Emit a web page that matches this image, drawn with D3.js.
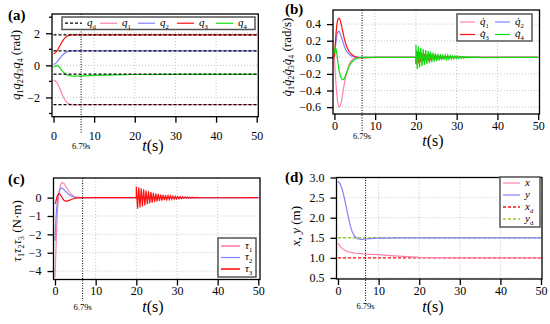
<!DOCTYPE html>
<html>
<head>
<meta charset="utf-8">
<script src="https://cdn.jsdelivr.net/npm/d3@7"></script>
<style>
body { margin: 0; background: #fff; }
svg text { font-family: "Liberation Serif", serif; }
</style>
</head>
<body>
<script>
// ---- data ----
var xTicks = [0, 10, 20, 30, 40, 50];
var tMark = 6.79;

// (a) joint angles
var tA = [0, 0.5, 1, 1.5, 2, 2.5, 3, 3.5, 4, 4.5, 5, 6, 8, 10, 15, 20, 30, 50];
var q1 = [-0.92, -0.98, -1.13, -1.4, -1.74, -2.02, -2.22, -2.35, -2.42, -2.45, -2.46, -2.46, -2.45, -2.45, -2.45, -2.45, -2.45, -2.45];
var q2 = [0.05, 0.11, 0.25, 0.42, 0.58, 0.71, 0.8, 0.86, 0.89, 0.9, 0.9, 0.9, 0.9, 0.9, 0.9, 0.9, 0.9, 0.9];
var q3 = [0.7, 0.79, 0.96, 1.18, 1.42, 1.62, 1.76, 1.84, 1.88, 1.9, 1.9, 1.9, 1.9, 1.9, 1.9, 1.9, 1.9, 1.9];
var q4 = [-0.1, -0.03, -0.03, -0.13, -0.3, -0.45, -0.55, -0.61, -0.64, -0.66, -0.67, -0.67, -0.65, -0.63, -0.59, -0.57, -0.56, -0.56];
var qd = [1.9, 0.9, -0.55, -2.45];
var ticksA = [-2, 0, 2];
var minorA = [-3, -1, 1, 3];

// (b) joint velocities
var tB = [0, 0.2, 0.4, 0.6, 0.8, 1, 1.2, 1.4, 1.6, 1.8, 2, 2.2, 2.4, 2.8, 3.2, 3.6, 4, 4.5, 5, 5.5, 6, 7, 8, 10, 19.99];
var dq1 = [0, -0.18, -0.33, -0.45, -0.54, -0.59, -0.6, -0.59, -0.56, -0.51, -0.45, -0.39, -0.33, -0.23, -0.15, -0.09, -0.05, -0.025, -0.01, -0.004, 0, 0, 0, 0, 0];
var dq2 = [0, 0.1, 0.19, 0.26, 0.3, 0.31, 0.31, 0.29, 0.26, 0.23, 0.2, 0.17, 0.14, 0.09, 0.06, 0.035, 0.02, 0.01, 0.005, 0.002, 0, 0, 0, 0, 0];
var dq3 = [0, 0.15, 0.29, 0.39, 0.45, 0.47, 0.47, 0.45, 0.41, 0.37, 0.32, 0.28, 0.23, 0.16, 0.11, 0.07, 0.045, 0.025, 0.01, 0.002, -0.005, -0.008, -0.005, 0, 0];
var dq4 = [0.05, 0.12, 0.1, 0.04, -0.04, -0.11, -0.17, -0.21, -0.24, -0.26, -0.27, -0.27, -0.26, -0.21, -0.16, -0.11, -0.075, -0.045, -0.025, -0.012, -0.004, 0, 0, 0, 0];

// disturbance at t = 20 s
var tOsc = [20, 20.3, 20.6, 20.9, 21.2, 21.5, 21.8, 22.1, 22.4, 22.7, 23, 23.3, 23.6, 23.9, 24.2, 24.5, 24.8, 25.1, 25.4, 25.7,
            26, 26.3, 26.6, 26.9, 27.2, 27.5, 27.8, 28.1, 28.4, 28.7, 29, 29.3, 29.6, 29.9, 30.2, 30.5, 30.8, 31.1, 31.4, 31.7,
            32, 32.3, 32.6, 32.9, 33.2, 33.5, 33.8, 34.1, 34.4, 34.7, 35, 35.3, 35.6, 35.9];
var dq4Osc = [0.15, -0.14, 0.131, -0.122, 0.113, -0.106, 0.099, -0.092, 0.086, -0.08, 0.075, -0.07, 0.065, -0.06, 0.056, -0.053, 0.049, -0.046, 0.043, -0.04,
              0.037, -0.035, 0.032, -0.03, 0.028, -0.026, 0.024, -0.023, 0.021, -0.02, 0.018, -0.017, 0.016, -0.015, 0.014, -0.013, 0.012, -0.011, 0.01, -0.01,
              0.009, -0.008, 0.008, -0.007, 0.007, -0.006, 0.006, -0.005, 0.005, -0.004, 0.004, -0.004, 0.003, -0.003];
var dq3Osc = [-0.08, 0.075, -0.07, 0.063, -0.057, 0.05, -0.045, 0.04, -0.036, 0.032, -0.028, 0.025, -0.022, 0.02, -0.018, 0.016, -0.014, 0.012, -0.011, 0.01,
              -0.009, 0.008, -0.007, 0.006, -0.005, 0.005, -0.004, 0.004, -0.003, 0.003, -0.003, 0.002, -0.002, 0.002, -0.002, 0.001, -0.001, 0.001, -0.001, 0.001,
              0, 0, 0, 0, 0, 0, 0, 0, 0, 0, 0, 0, 0, 0];
var ticksB = [-0.6, -0.4, -0.2, 0, 0.2, 0.4];

// (c) joint torques
var tC = [0, 0.1, 0.2, 0.3, 0.5, 0.7, 1, 1.3, 1.6, 1.9, 2.2, 2.6, 3, 3.5, 4, 4.5, 5, 6, 8, 19.99];
var tau1 = [-4.35, -3.8, -3.0, -2.3, -1.2, -0.4, 0.3, 0.65, 0.8, 0.82, 0.78, 0.65, 0.5, 0.32, 0.18, 0.09, 0.04, 0.01, 0, 0];
var tau2 = [-2.35, -1.8, -1.3, -0.9, -0.35, 0, 0.3, 0.47, 0.53, 0.5, 0.44, 0.35, 0.26, 0.16, 0.09, 0.05, 0.02, 0.005, 0, 0];
var tau3 = [-0.33, -0.3, -0.22, -0.12, 0.05, 0.16, 0.22, 0.18, 0.06, -0.06, -0.14, -0.19, -0.19, -0.15, -0.1, -0.06, -0.03, -0.01, 0, 0];
var tau3Osc = [0.6, -0.6, 0.57, -0.54, 0.51, -0.48, 0.45, -0.42, 0.39, -0.36, 0.34, -0.32, 0.3, -0.28, 0.26, -0.24, 0.22, -0.21, 0.2, -0.18,
               0.17, -0.16, 0.15, -0.14, 0.13, -0.12, 0.11, -0.1, 0.095, -0.09, 0.085, -0.08, 0.075, -0.07, 0.065, -0.06, 0.055, -0.05, 0.045, -0.04,
               0.037, -0.034, 0.031, -0.028, 0.025, -0.022, 0.02, -0.018, 0.016, -0.014, 0.012, -0.01, 0.008, -0.006];
var ticksC = [-4, -3, -2, -1, 0];

// (d) end effector position
var tD = [0, 0.5, 1, 1.5, 2, 2.5, 3, 3.5, 4, 4.5, 5, 5.5, 6, 7, 8, 10, 12, 15, 18, 20, 25, 30, 40, 50];
var posX = [1.36, 1.29, 1.23, 1.2, 1.17, 1.15, 1.14, 1.13, 1.12, 1.115, 1.11, 1.105, 1.1, 1.095, 1.09, 1.08, 1.065, 1.045, 1.025, 1.015, 1.005, 1.0, 1.0, 1.0];
var posY = [2.9, 2.85, 2.72, 2.52, 2.28, 2.03, 1.81, 1.65, 1.55, 1.5, 1.47, 1.46, 1.46, 1.47, 1.48, 1.49, 1.49, 1.5, 1.5, 1.5, 1.5, 1.5, 1.5, 1.5];
var xd = 1.0, yd = 1.5;
var ticksD = [0.5, 1, 1.5, 2, 2.5, 3];

// ---- colours ----
var cPink = "#ff80aa", cBlue = "#8080ff", cRed = "#ff1010", cGreen = "#10dd10", cYel = "#99cc33";
var serif = "Liberation Serif, serif";

var svg = d3.select("body").append("svg")
    .attr("width", 550)
    .attr("height", 324)
    .attr("font-family", serif);

// text with italic symbols and subscripts: pieces [text, "i" | "s" | ""]
function rich(t, pieces, size) {
    var inSub = false;
    pieces.forEach(function(p) {
        var ts = t.append("tspan").text(p[0]);
        var sub = p[1] === "s";
        if (p[1] === "i") ts.attr("font-style", "italic");
        if (sub) ts.attr("font-size", size * 0.6);
        if (sub && !inSub) ts.attr("dy", size * 0.28);
        if (!sub && inSub) ts.attr("dy", -size * 0.28);
        inSub = sub;
    });
    return t;
}

function panel(p) {
    var g = svg.append("g");
    var x = d3.scaleLinear().domain([0, 50]).range([p.x0, p.x50]);
    var y = d3.scaleLinear().domain(p.yDom).range([p.bottom, p.top]);

    // grid
    g.selectAll(".gx").data([10, 20, 30, 40]).enter().append("line")
        .attr("x1", function(d) { return x(d); }).attr("x2", function(d) { return x(d); })
        .attr("y1", p.top).attr("y2", p.bottom)
        .attr("stroke", "#b8b8b8").attr("stroke-width", 0.8).attr("stroke-dasharray", "1,2");
    g.selectAll(".gy").data(p.yTicks).enter().append("line")
        .attr("x1", p.left).attr("x2", p.right)
        .attr("y1", function(d) { return y(d); }).attr("y2", function(d) { return y(d); })
        .attr("stroke", "#b8b8b8").attr("stroke-width", 0.8).attr("stroke-dasharray", "1,2");

    // axes
    var ax = g.append("g")
        .attr("transform", "translate(0," + p.bottom + ")")
        .call(d3.axisBottom(x).tickValues(xTicks).tickSize(6));
    ax.select(".domain").remove();
    ax.attr("font-family", serif).attr("font-size", 12);
    ax.selectAll("line").attr("stroke-width", 1.3);
    ax.selectAll("text").attr("y", p.xLabY - p.bottom).attr("dy", 0);

    var ay = g.append("g")
        .attr("transform", "translate(" + p.left + ",0)")
        .call(d3.axisLeft(y).tickValues(p.yTicks).tickSize(6).tickPadding(6).tickFormat(p.fmt));
    ay.select(".domain").remove();
    ay.attr("font-family", serif).attr("font-size", 12);
    ay.selectAll("line").attr("stroke-width", 1.3);

    if (p.minor) {
        g.selectAll(".mn").data(p.minor).enter().append("line")
            .attr("x1", p.left - 3).attr("x2", p.left)
            .attr("y1", function(d) { return y(d); }).attr("y2", function(d) { return y(d); })
            .attr("stroke", "#000").attr("stroke-width", 1.3);
    }

    // data
    var line = d3.line().x(function(d) { return x(d[0]); }).y(function(d) { return y(d[1]); });
    p.series.forEach(function(s) {
        g.append("path")
            .datum(s.pts)
            .attr("d", line)
            .attr("fill", "none")
            .attr("stroke", s.color)
            .attr("stroke-width", s.w || 1.2)
            .attr("stroke-dasharray", s.dash || null);
    });

    // frame
    g.append("rect")
        .attr("x", p.left).attr("y", p.top)
        .attr("width", p.right - p.left).attr("height", p.bottom - p.top)
        .attr("fill", "none").attr("stroke", "#000").attr("stroke-width", 1.3);

    // settling time marker
    g.append("line")
        .attr("x1", x(tMark)).attr("x2", x(tMark))
        .attr("y1", p.top).attr("y2", p.markEnd)
        .attr("stroke", "#000").attr("stroke-width", 1).attr("stroke-dasharray", "1,1.5");
    g.append("text")
        .attr("x", x(tMark)).attr("y", p.markY)
        .attr("text-anchor", "middle").attr("font-size", 8.5)
        .text(tMark + "s");

    // x label
    rich(g.append("text").attr("x", p.tx).attr("y", p.ty).attr("text-anchor", "middle").attr("font-size", 16),
        [["t", "i"], ["(s)", ""]], 16);

    // y label
    rich(g.append("text")
            .attr("transform", "translate(" + p.ylx + "," + p.yly + ") rotate(-90)")
            .attr("text-anchor", "middle").attr("dy", "0.35em").attr("font-size", 13),
        p.ylab, 13);

    // panel letter
    g.append("text").attr("x", p.lx).attr("y", p.ly)
        .attr("font-size", 15).attr("font-weight", "bold").text(p.id);

    // legend
    var L = p.legend;
    g.append("rect")
        .attr("x", L.x).attr("y", L.y).attr("width", L.w).attr("height", L.h)
        .attr("fill", "#fff").attr("stroke", "#555").attr("stroke-width", 1.5);
    L.items.forEach(function(it) {
        g.append("line")
            .attr("x1", it.x).attr("x2", it.x + L.len)
            .attr("y1", it.y).attr("y2", it.y)
            .attr("stroke", it.color).attr("stroke-width", it.w || 1.2)
            .attr("stroke-dasharray", it.dash || null);
        rich(g.append("text").attr("x", it.x + L.len + 5).attr("y", it.y).attr("dy", "0.25em").attr("font-size", 11),
            it.label, 11);
    });
}

function pts(t, v) { return d3.zip(t, v); }
function flat(val) { return [[0, val], [50, val]]; }

// (a)
panel({
    id: "(a)", lx: 8, ly: 20,
    left: 52, right: 258.3, top: 14, bottom: 116.7, x0: 53.5, x50: 256.7,
    yDom: [-3.2, 3.2], yTicks: ticksA, minor: minorA, fmt: d3.format("d"),
    xLabY: 140, markEnd: 133, markY: 148.5, tx: 153, ty: 151,
    ylx: 15, yly: 65,
    ylab: [["q", "i"], ["1", "s"], ["q", "i"], ["2", "s"], ["q", "i"], ["3", "s"], ["q", "i"], ["4", "s"], [" (rad)", ""]],
    series: [
        { pts: pts(tA, q1), color: cPink },
        { pts: pts(tA, q2), color: cBlue },
        { pts: pts(tA, q3), color: cRed },
        { pts: pts(tA, q4), color: cGreen },
        { pts: flat(qd[0]), color: "#000", dash: "3,2" },
        { pts: flat(qd[1]), color: "#000", dash: "3,2" },
        { pts: flat(qd[2]), color: "#000", dash: "3,2" },
        { pts: flat(qd[3]), color: "#000", dash: "3,2" }
    ],
    legend: { x: 62, y: 17, w: 193, h: 12.5, len: 17, items: [
        { x: 65, y: 23.2, color: "#000", dash: "3,2", label: [["q", "i"], ["d", "s"]] },
        { x: 100, y: 23.2, color: cPink, label: [["q", "i"], ["1", "s"]] },
        { x: 138, y: 23.2, color: cBlue, label: [["q", "i"], ["2", "s"]] },
        { x: 177, y: 23.2, color: cRed, label: [["q", "i"], ["3", "s"]] },
        { x: 216, y: 23.2, color: cGreen, label: [["q", "i"], ["4", "s"]] }
    ] }
});

// (b)
panel({
    id: "(b)", lx: 285, ly: 14,
    left: 333, right: 539.5, top: 10, bottom: 114, x0: 334.4, x50: 538.2,
    yDom: [-0.683, 0.57], yTicks: ticksB, fmt: d3.format(".1f"),
    xLabY: 130, markEnd: 131.7, markY: 139, tx: 433, ty: 146,
    ylx: 286, yly: 57,
    ylab: [["q\u0307", "i"], ["1", "s"], ["q\u0307", "i"], ["2", "s"], ["q\u0307", "i"], ["3", "s"], ["q\u0307", "i"], ["4", "s"], [" (rad/s)", ""]],
    series: [
        { pts: pts(tB, dq1).concat([[50, 0]]), color: cPink },
        { pts: pts(tB, dq2).concat([[50, 0]]), color: cBlue },
        { pts: pts(tB, dq3).concat(pts(tOsc, dq3Osc), [[50, 0]]), color: cRed },
        { pts: pts(tB, dq4).concat(pts(tOsc, dq4Osc), [[50, 0]]), color: cGreen }
    ],
    legend: { x: 457, y: 14, w: 75, h: 27, len: 15, items: [
        { x: 460, y: 22, color: cPink, label: [["q\u0307", "i"], ["1", "s"]] },
        { x: 495, y: 22, color: cBlue, label: [["q\u0307", "i"], ["2", "s"]] },
        { x: 460, y: 34.5, color: cRed, label: [["q\u0307", "i"], ["3", "s"]] },
        { x: 495, y: 34.5, color: cGreen, label: [["q\u0307", "i"], ["4", "s"]] }
    ] }
});

// (c)
panel({
    id: "(c)", lx: 8, ly: 184,
    left: 53.5, right: 260, top: 178, bottom: 279.5, x0: 55, x50: 258.3,
    yDom: [-4.46, 1.07], yTicks: ticksC, fmt: d3.format("d"),
    xLabY: 295.3, markEnd: 301, markY: 310, tx: 153, ty: 312,
    ylx: 16, yly: 231,
    ylab: [["\u03c4", "i"], ["1", "s"], ["\u03c4", "i"], ["2", "s"], ["\u03c4", "i"], ["3", "s"], [" (N\u00b7m)", ""]],
    series: [
        { pts: pts(tC, tau1).concat([[50, 0]]), color: cPink },
        { pts: pts(tC, tau2).concat([[50, 0]]), color: cBlue },
        { pts: pts(tC, tau3).concat(pts(tOsc, tau3Osc), [[50, 0]]), color: cRed }
    ],
    legend: { x: 218, y: 238, w: 38, h: 39, len: 19, items: [
        { x: 221, y: 246, color: cPink, w: 1.6, label: [["\u03c4", "i"], ["1", "s"]] },
        { x: 221, y: 257.5, color: cBlue, label: [["\u03c4", "i"], ["2", "s"]] },
        { x: 221, y: 269, color: cRed, w: 1.6, label: [["\u03c4", "i"], ["3", "s"]] }
    ] }
});

// (d)
panel({
    id: "(d)", lx: 285, ly: 182,
    left: 336.5, right: 542, top: 177.5, bottom: 279, x0: 338, x50: 541,
    yDom: [0.475, 3.0], yTicks: ticksD, fmt: d3.format(".1f"),
    xLabY: 294.7, markEnd: 301, markY: 309, tx: 433, ty: 312,
    ylx: 295, yly: 226,
    ylab: [["x", "i"], [", ", ""], ["y", "i"], [" (m)", ""]],
    series: [
        { pts: flat(xd), color: cRed, dash: "3,2", w: 1.4 },
        { pts: flat(yd), color: cYel, dash: "3,2", w: 1.4 },
        { pts: pts(tD, posX), color: cPink },
        { pts: pts(tD, posY), color: cBlue }
    ],
    legend: { x: 500, y: 177, w: 40, h: 50, len: 17, items: [
        { x: 503, y: 183, color: cPink, label: [["x", "i"]] },
        { x: 503, y: 195, color: cBlue, label: [["y", "i"]] },
        { x: 503, y: 207, color: cRed, dash: "3,2", w: 1.4, label: [["x", "i"], ["d", "s"]] },
        { x: 503, y: 219, color: cYel, dash: "3,2", w: 1.4, label: [["y", "i"], ["d", "s"]] }
    ] }
});
</script>
</body>
</html>
